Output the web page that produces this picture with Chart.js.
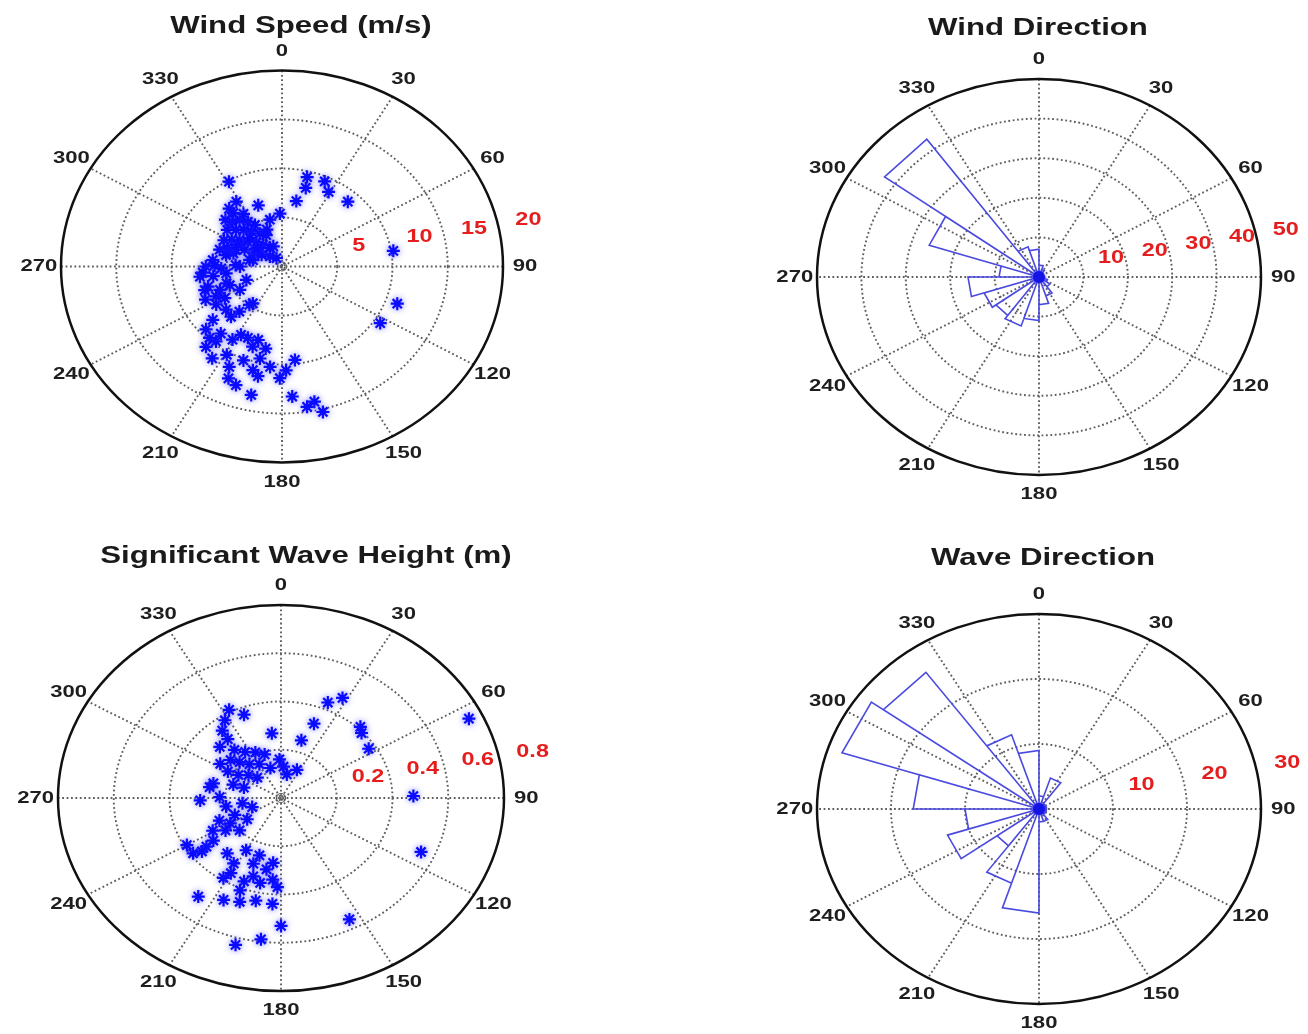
<!DOCTYPE html>
<html>
<head>
<meta charset="utf-8">
<script src="https://cdn.jsdelivr.net/npm/chart.js@4.4.1/dist/chart.umd.min.js"></script>
<style>
  body { margin: 0; background: #fff; }
  #page { position: relative; width: 1308px; height: 1034px; overflow: hidden; background: #fff; }
  .panel { position: absolute; width: 654px; height: 517px; }
</style>
</head>
<body>
<div id="page">
  <div class="panel" style="left:0;top:0"><canvas id="windSpeedChart" width="654" height="517"></canvas></div>
  <div class="panel" style="left:654px;top:0"><canvas id="windDirChart" width="654" height="517"></canvas></div>
  <div class="panel" style="left:0;top:517px"><canvas id="waveHeightChart" width="654" height="517"></canvas></div>
  <div class="panel" style="left:654px;top:517px"><canvas id="waveDirChart" width="654" height="517"></canvas></div>
</div>
<script>
const angleTicks = [0, 30, 60, 90, 120, 150, 180, 210, 240, 270, 300, 330];

// wind speed samples: direction in degrees clockwise from north, speed in m/s
const windDir = [331, 14, 15, 24, 29, 42, 11, 358, 347, 328, 341, 321, 81, 110, 123, 176, 168, 166, 171, 178,
  173, 181, 191, 192, 203, 199, 192, 198, 203, 211, 218, 220, 214, 209, 200, 190, 186, 194, 219, 208,
  227, 196, 205, 222, 244, 237, 229, 220, 217, 229, 222, 247, 253, 262, 243, 238, 270, 276, 262, 270,
  287, 287, 247, 251, 284, 313, 339, 261, 238, 215, 313, 315, 321, 326, 330, 307, 312, 317, 322, 329,
  297, 301, 305, 309, 317, 322, 292, 297, 300, 303, 327, 321, 336, 291, 330, 340, 330, 265, 268, 251,
  315, 299, 311, 283, 283, 271, 248, 272];
const windSpeed = [9.9, 9.4, 8.3, 9.5, 8.7, 8.9, 6.8, 5.4, 4.9, 7.8, 6.6, 7.6, 10.2, 11.1, 10.6, 13.3, 14.1, 15.3, 14.5, 10.6,
  9.6, 11.4, 11.4, 13.4, 12.4, 12.8, 9.6, 8.6, 7.9, 8.7, 9.7, 10.7, 11.3, 10.3, 10.2, 8.5, 10.3, 10.9, 8.8, 7.9,
  9.4, 7.8, 11.3, 9.8, 7.7, 7.1, 6.7, 6.0, 4.9, 8.3, 6.9, 6.1, 7.0, 7.5, 6.7, 6.1, 6.9, 6.3, 5.1, 3.8,
  4.6, 5.9, 3.5, 5.3, 2.7, 1.5, 2.2, 6.3, 4.5, 4.6, 7.0, 6.4, 6.1, 5.5, 4.9, 6.2, 5.6, 5.1, 4.5, 3.9,
  5.9, 5.3, 4.7, 4.0, 3.4, 2.8, 4.5, 3.8, 2.9, 2.2, 6.4, 7.0, 3.5, 5.3, 2.2, 4.0, 1.0, 7.2, 5.5, 7.4,
  4.1, 4.6, 2.9, 5.2, 3.0, 6.1, 5.1, 4.2];
const windSpeedRings = [5, 10, 15, 20];

// significant wave height samples: direction in degrees, height in m
const waveDir = [64, 89, 114, 154, 28, 23, 44, 47, 57, 21, 17, 353, 339, 26, 4, 358, 12, 195, 187, 180,
  216, 206, 199, 192, 184, 182, 192, 201, 212, 190, 200, 212, 220, 210, 198, 186, 197, 210, 234, 233,
  240, 201, 241, 247, 240, 247, 236, 268, 284, 271, 261, 250, 260, 320, 326, 334, 342, 311, 315, 321,
  331, 343, 300, 302, 309, 315, 288, 288, 322, 323, 328, 333, 303, 314, 280, 228, 234, 234, 232, 185];
const waveHeight = [0.75, 0.475, 0.55, 0.56, 0.47, 0.43, 0.41, 0.395, 0.375, 0.33, 0.25, 0.27, 0.37, 0.13, 0.13, 0.16, 0.10, 0.63, 0.59, 0.53,
  0.505, 0.47, 0.455, 0.435, 0.44, 0.37, 0.36, 0.37, 0.39, 0.30, 0.29, 0.32, 0.30, 0.25, 0.25, 0.27, 0.34, 0.36, 0.39, 0.335,
  0.39, 0.41, 0.28, 0.24, 0.21, 0.18, 0.24, 0.29, 0.25, 0.22, 0.14, 0.11, 0.20, 0.26, 0.23, 0.21, 0.19, 0.24, 0.21, 0.18,
  0.16, 0.13, 0.22, 0.18, 0.15, 0.12, 0.18, 0.14, 0.31, 0.35, 0.38, 0.41, 0.26, 0.305, 0.26, 0.20, 0.15, 0.30, 0.36, 0.34];
const waveHeightRings = [0.2, 0.4, 0.6, 0.8];

// rose histograms: 20 bins of 18 degrees, first bin starts at north
const roseBinWidth = 18;
const windDirCounts = [3, 2, 1, 1, 1, 1, 2, 3, 5, 7, 11, 13, 12, 13, 16, 9, 26, 43, 8, 7];
const windDirRings = [10, 20, 30, 40, 50];
const waveDirCounts = [2, 5, 1, 1, 1, 1, 1, 1, 2, 2, 16, 12, 7, 13, 10, 17, 28, 26, 12, 9];
const waveDirRings = [10, 20, 30];

const FONT = '"Liberation Sans", Arial, Helvetica, sans-serif';
const TEXT_STRETCH = 1.3;

function polar(deg, r) {
  const a = deg * Math.PI / 180;
  return { x: r * Math.sin(a), y: r * Math.cos(a) };
}

function rosePath(counts) {
  const pts = [];
  counts.forEach((n, i) => {
    pts.push({ x: 0, y: 0 });
    pts.push(polar(i * roseBinWidth, n));
    pts.push(polar((i + 1) * roseBinWidth, n));
    pts.push({ x: 0, y: 0 });
  });
  return pts;
}

function stretchedText(ctx, text, x, y, align) {
  ctx.save();
  ctx.translate(x, y);
  ctx.scale(TEXT_STRETCH, 1);
  ctx.textAlign = align;
  ctx.fillText(text, 0, 0);
  ctx.restore();
}

// draws the dotted polar grid, outer ring, labels and title behind the data
function polarFrame(cfg) {
  return {
    id: 'polarFrame',
    beforeDatasetsDraw(chart) {
      const { ctx } = chart;
      const xs = chart.scales.x, ys = chart.scales.y;
      const rings = cfg.rings;
      const rmax = rings[rings.length - 1];
      const rinc = rings[0];
      const cx = xs.getPixelForValue(0), cy = ys.getPixelForValue(0);
      const toPx = (deg, r) => {
        const p = polar(deg, r);
        return [xs.getPixelForValue(p.x), ys.getPixelForValue(p.y)];
      };
      const ellipse = r => {
        ctx.beginPath();
        ctx.ellipse(cx, cy, xs.getPixelForValue(r) - cx, cy - ys.getPixelForValue(r), 0, 0, Math.PI * 2);
        ctx.stroke();
      };

      ctx.save();
      ctx.strokeStyle = '#5e5e5e';
      ctx.lineWidth = 1.9;
      ctx.setLineDash([1.8, 2.6]);
      rings.slice(0, -1).forEach(ellipse);
      for (let a = 0; a < 180; a += 30) {
        const [x1, y1] = toPx(a, rmax);
        const [x2, y2] = toPx(a + 180, rmax);
        ctx.beginPath();
        ctx.moveTo(x1, y1);
        ctx.lineTo(x2, y2);
        ctx.stroke();
      }
      ctx.setLineDash([]);

      if (cfg.centerRing) {
        ctx.lineWidth = 1.2;
        ctx.beginPath();
        ctx.arc(cx, cy, 4.5, 0, Math.PI * 2);
        ctx.stroke();
      }

      ctx.strokeStyle = '#111';
      ctx.lineWidth = 2.5;
      ellipse(rmax);

      // compass labels just outside the outer ring
      ctx.fillStyle = '#1e1e1e';
      ctx.font = 'bold 17px ' + FONT;
      ctx.textBaseline = 'middle';
      angleTicks.forEach(a => {
        const [x, y] = toPx(a, rmax * 1.1);
        stretchedText(ctx, String(a), x, y, 'center');
      });

      // radial tick labels
      ctx.fillStyle = '#e41e1e';
      ctx.font = 'bold 18px ' + FONT;
      ctx.textBaseline = 'bottom';
      rings.forEach(r => {
        const [x, y] = toPx(80, r + rinc / 20);
        stretchedText(ctx, '  ' + String(r), x, y - 3, 'left');
      });
      ctx.restore();

      ctx.save();
      if (cfg.glow) {
        ctx.shadowColor = 'rgba(40,40,255,0.6)';
        ctx.shadowBlur = 6;
      }
    },
    afterDatasetsDraw(chart) {
      const { ctx } = chart;
      ctx.restore();
      if (cfg.hub) {
        const cx = chart.scales.x.getPixelForValue(0), cy = chart.scales.y.getPixelForValue(0);
        ctx.save();
        ctx.fillStyle = '#1414e6';
        ctx.shadowColor = 'rgba(40,40,255,0.6)';
        ctx.shadowBlur = 4;
        ctx.beginPath();
        ctx.arc(cx, cy, 6, 0, Math.PI * 2);
        ctx.fill();
        ctx.restore();
      }
    },
    afterDraw(chart) {
      const { ctx } = chart;
      ctx.save();
      ctx.fillStyle = '#1a1a1a';
      ctx.font = 'bold 24px ' + FONT;
      ctx.textBaseline = 'alphabetic';
      stretchedText(ctx, cfg.title, cfg.titleX, cfg.titleY, 'center');
      ctx.restore();
    }
  };
}

function polarOptions(rmax, padding) {
  return {
    responsive: false,
    animation: false,
    events: [],
    layout: { padding },
    plugins: { legend: { display: false }, tooltip: { enabled: false } },
    scales: {
      x: { type: 'linear', min: -rmax, max: rmax, display: false },
      y: { type: 'linear', min: -rmax, max: rmax, display: false }
    }
  };
}

function scatterChart(id, dirs, values, rings, padding, title, titleX, titleY) {
  const rmax = rings[rings.length - 1];
  return new Chart(document.getElementById(id), {
    type: 'scatter',
    data: {
      datasets: [{
        data: dirs.map((d, i) => polar(d, values[i])),
        pointStyle: 'star',
        pointRadius: 6.5,
        borderWidth: 2.2,
        borderColor: '#0a0aff',
        backgroundColor: '#0a0aff',
        clip: false
      }]
    },
    options: polarOptions(rmax, padding),
    plugins: [polarFrame({ rings, title, titleX, titleY, centerRing: true, glow: true })]
  });
}

function roseChart(id, counts, rings, padding, title, titleX, titleY) {
  const rmax = rings[rings.length - 1];
  return new Chart(document.getElementById(id), {
    type: 'scatter',
    data: {
      datasets: [{
        data: rosePath(counts),
        showLine: true,
        pointRadius: 0,
        borderColor: '#4a4ae0',
        borderWidth: 1.6,
        tension: 0,
        fill: false,
        clip: false
      }]
    },
    options: polarOptions(rmax, padding),
    plugins: [polarFrame({ rings, title, titleX, titleY, hub: true })]
  });
}

scatterChart('windSpeedChart', windDir, windSpeed, windSpeedRings,
  { left: 61, right: 151, top: 70.5, bottom: 54.5 }, 'Wind Speed (m/s)', 301, 33);
roseChart('windDirChart', windDirCounts, windDirRings,
  { left: 163, right: 47, top: 79, bottom: 42 }, 'Wind Direction', 384, 35);
scatterChart('waveHeightChart', waveDir, waveHeight, waveHeightRings,
  { left: 58, right: 150, top: 88, bottom: 43 }, 'Significant Wave Height (m)', 306, 46);
roseChart('waveDirChart', waveDirCounts, waveDirRings,
  { left: 163, right: 47, top: 97, bottom: 30 }, 'Wave Direction', 389, 48);
</script>
</body>
</html>
